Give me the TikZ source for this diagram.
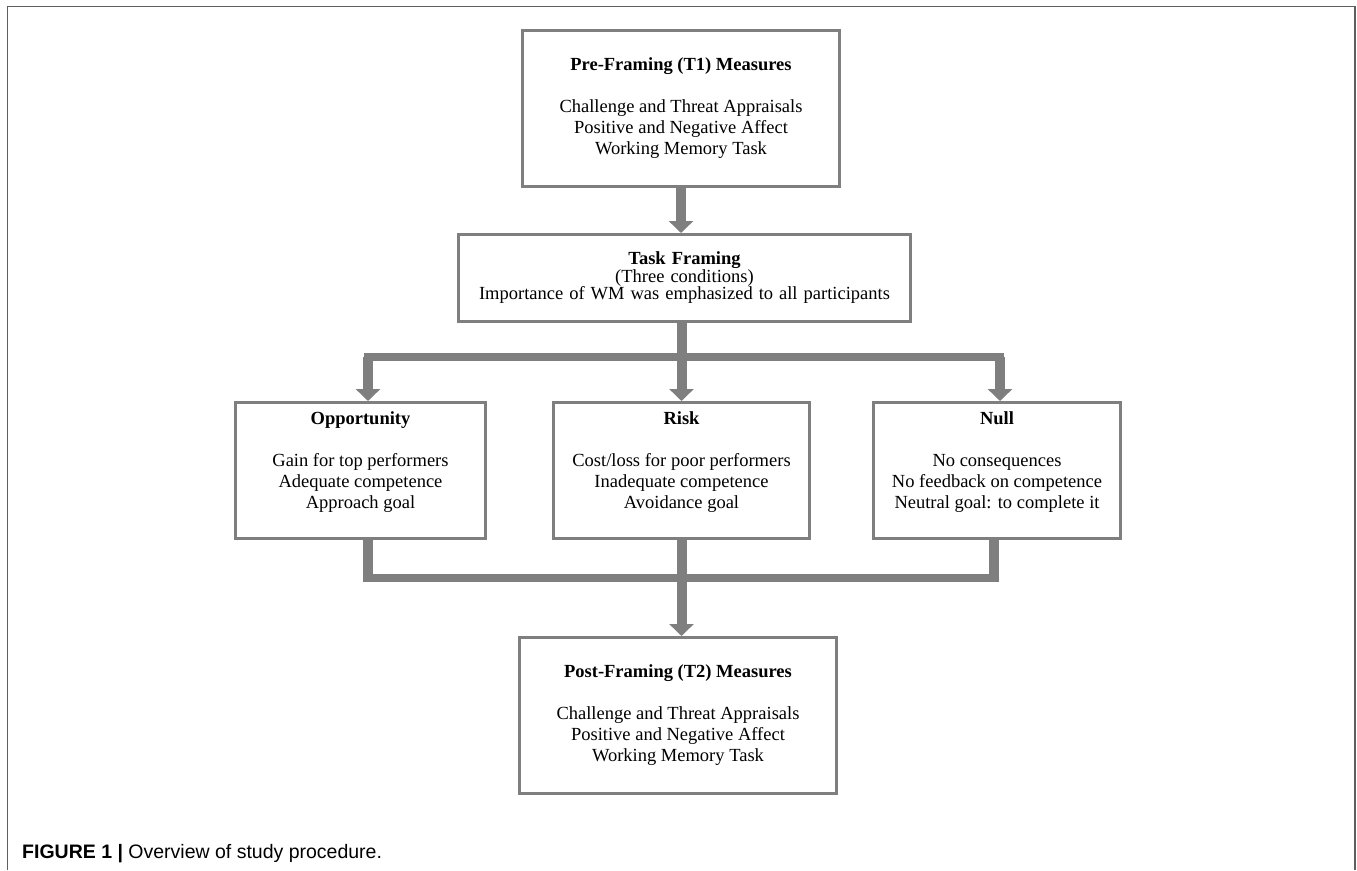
\documentclass[tikz,border=0pt]{standalone}
\usepackage{fontspec}
\setmainfont{Liberation Serif}
\newfontfamily\capfont{Liberation Sans}
\usetikzlibrary{arrows.meta}
\definecolor{boxgray}{HTML}{7F7F7F}
\definecolor{framegray}{HTML}{5F5F5F}
\newcommand{\widewords}{\spaceskip=6pt plus 1pt\relax}

\begin{document}
\begin{tikzpicture}[x=1pt,y=-1pt,
	box/.style={draw=boxgray,line width=3pt,rectangle,align=center,inner sep=0pt,font=\fontsize{18.5}{21}\selectfont},
	stem/.style={draw=boxgray,line width=10pt},
	bar/.style={draw=boxgray,line width=8pt,line cap=rect},
	flow/.style={stem,-{Triangle[width=24pt,length=12pt]}}]
	\useasboundingbox (0,0) rectangle (1357,870);
	\draw[framegray,line width=1.5pt] (7.5,870) -- (7.5,6.5) -- (1355,6.5) -- (1355,870);

	\node[box,minimum width=317pt,minimum height=156pt] (pre) at (681,108.5) {\textbf{Pre-Framing (T1) Measures}\\[21pt]Challenge and Threat Appraisals\\Positive and Negative Affect\\Working Memory Task};
	\node[box,minimum width=452pt,minimum height=87pt,font=\fontsize{18.5}{17.5}\selectfont\widewords] (task) at (684.5,278) {\textbf{Task Framing}\\(Three conditions)\\Importance of WM was emphasized to all participants};

	\node[box,minimum width=250pt,minimum height=136pt] (opp) at (360.5,470.5) {\textbf{Opportunity}\\[21pt]Gain for top performers\\Adequate competence\\Approach goal\\\mbox{}};
	\node[box,minimum width=256pt,minimum height=136pt] (risk) at (681.5,470.5) {\textbf{Risk}\\[21pt]Cost/loss for poor performers\\Inadequate competence\\Avoidance goal\\\mbox{}};
	\node[box,minimum width=247pt,minimum height=136pt] (null) at (997,470.5) {\textbf{Null}\\[21pt]No consequences\\No feedback on competence\\Neutral goal: to complete it\\\mbox{}};

	\node[box,minimum width=317pt,minimum height=156pt] (post) at (678,715.5) {\textbf{Post-Framing (T2) Measures}\\[21pt]Challenge and Threat Appraisals\\Positive and Negative Affect\\Working Memory Task};

	\coordinate (split) at (681.5,357);
	\coordinate (merge) at (681.5,578);

	\draw[flow] (pre.south) -- (pre.south |- task.north);
	\draw[stem] (task.south -| split) -- (split);
	\draw[bar] ([xshift=7.5pt]opp.north |- split) -- ([xshift=3pt]null.north |- split);
	\foreach \n/\dx in {opp/7.5,risk/0,null/3}
		\draw[flow] ([xshift=\dx pt]\n.north |- split) -- ([xshift=\dx pt]\n.north);

	\draw[stem] ([xshift=7.5pt]opp.south) -- ([xshift=7.5pt]opp.south |- 0,582);
	\draw[stem] ([xshift=-3pt]null.south) -- ([xshift=-3pt]null.south |- 0,582);
	\draw[bar] ([xshift=7.5pt]opp.south |- merge) -- ([xshift=-3pt]null.south |- merge);
	\draw[flow] (risk.south) -- (risk.south |- post.north);

	\node[anchor=base west,inner sep=0pt,font=\capfont\fontsize{19.5}{22}\selectfont] (caption) at (22,858) {\textbf{FIGURE 1 |} Overview of study procedure.};
\end{tikzpicture}
\end{document}
